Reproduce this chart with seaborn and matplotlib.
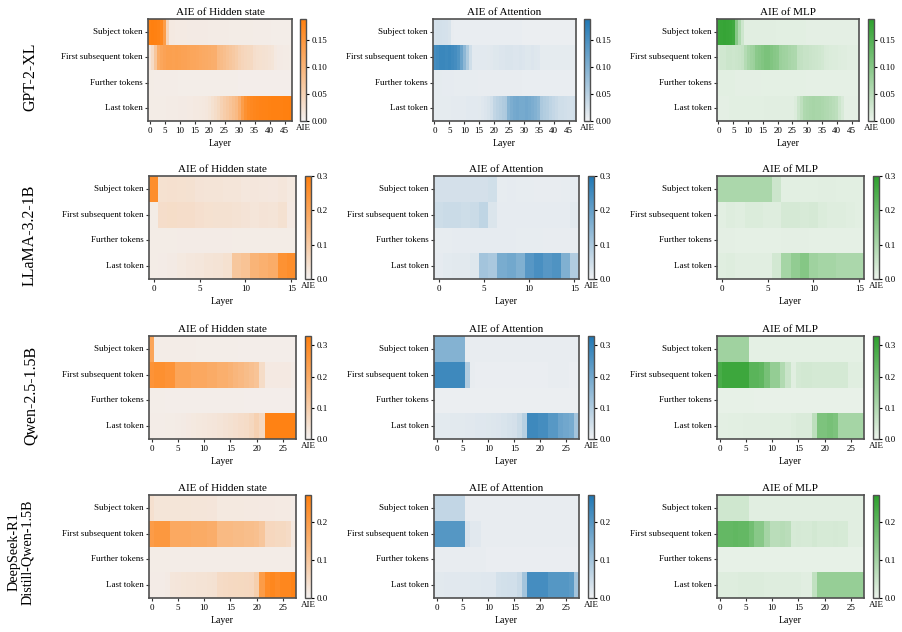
import numpy as np
import pandas as pd
import matplotlib
matplotlib.use("Agg")
import matplotlib.pyplot as plt
import seaborn as sns

# ---------------- data ----------------
tokens = ["Subject token", "First subsequent token", "Further tokens", "Last token"]
models = ["GPT-2-XL", "LLaMA-3.2-1B", "Qwen-2.5-1.5B", "DeepSeek-R1\nDistill-Qwen-1.5B"]
components = ["Hidden state", "Attention", "MLP"]
vmaxes = [0.19, 0.30, 0.33, 0.27]

# GPT-2-XL (48 layers)
gpt_hid_subj = [.185,.188,.186,.184,.176,.140,.045,.012,.012,.011,
                .011,.011,.011,.010,.010,.010,.010,.010,.010,.010,
                .009,.009,.009,.009,.009,.009,.009,.008,.008,.008,
                .008,.008,.008,.008,.008,.007,.007,.007,.007,.007,
                .007,.006,.006,.006,.006,.006,.006,.006]
gpt_hid_first = [.018,.035,.070,.115,.125,.130,.135,.135,.133,.135,
                 .133,.131,.130,.128,.125,.124,.122,.120,.118,.116,
                 .114,.112,.110,.092,.087,.082,.076,.070,.065,.060,
                 .050,.045,.042,.040,.038,.030,.028,.026,.025,.024,
                 .022,.020,.012,.010,.010,.009,.009,.008]
gpt_hid_furt = [.008,.008,.007,.007,.007,.007,.007,.007,.007,.007,
                .006,.006,.006,.006,.006,.006,.006,.006,.006,.006,
                .006,.006,.006,.006,.006,.006,.006,.006,.006,.006,
                .005,.005,.005,.005,.005,.005,.005,.005,.005,.005,
                .005,.005,.005,.005,.005,.005,.005,.005]
gpt_hid_last = [.008,.008,.008,.008,.008,.008,.009,.009,.009,.009,
                .010,.010,.010,.011,.011,.012,.012,.013,.014,.016,
                .020,.026,.032,.040,.050,.058,.066,.074,.082,.090,
                .110,.140,.160,.170,.175,.178,.180,.182,.183,.184,
                .185,.186,.186,.187,.187,.188,.188,.190]

gpt_att_subj = [.024,.026,.026,.025,.024,.022,.007,.006,.006,.006,
                .006,.006,.006,.006,.006,.006,.006,.006,.006,.006,
                .006,.006,.006,.006,.006,.006,.006,.006,.006,.006,
                .005,.005,.005,.005,.005,.005,.005,.005,.005,.005,
                .005,.005,.005,.005,.005,.005,.005,.005]
gpt_att_first = [.155,.160,.165,.165,.162,.165,.160,.155,.145,.120,
                 .090,.060,.030,.012,.012,.012,.012,.012,.013,.014,
                 .016,.016,.018,.018,.020,.020,.020,.018,.018,.020,
                 .018,.016,.016,.018,.016,.015,.010,.010,.010,.010,
                 .010,.010,.010,.010,.010,.010,.010,.010]
gpt_att_furt = [.010,.010,.010,.009,.009,.009,.009,.008,.008,.008,
                .008,.008,.008,.008,.008,.007,.007,.007,.007,.007,
                .007,.007,.007,.007,.007,.007,.007,.007,.007,.007,
                .006,.006,.006,.006,.006,.006,.006,.006,.006,.006,
                .006,.006,.006,.006,.006,.006,.006,.006]
gpt_att_last = [.010,.010,.010,.010,.010,.010,.011,.011,.011,.011,
                .011,.012,.012,.012,.012,.013,.015,.018,.022,.028,
                .042,.048,.052,.058,.062,.095,.105,.112,.115,.110,
                .110,.115,.110,.105,.100,.092,.062,.056,.052,.046,
                .040,.035,.030,.030,.028,.026,.025,.028]

gpt_mlp_subj = [.175,.178,.180,.178,.176,.170,.100,.060,.030,.010,
                .010,.010,.010,.010,.010,.010,.010,.010,.010,.010,
                .009,.009,.009,.009,.009,.009,.009,.009,.009,.009,
                .008,.008,.008,.008,.008,.008,.008,.008,.008,.008,
                .008,.008,.008,.008,.008,.008,.008,.008]
gpt_mlp_first = [.022,.027,.027,.032,.032,.030,.032,.034,.038,.055,
                 .068,.075,.080,.095,.100,.106,.112,.112,.105,.100,
                 .096,.080,.075,.074,.068,.064,.062,.042,.040,.036,
                 .036,.033,.031,.030,.028,.025,.020,.018,.016,.015,
                 .015,.014,.012,.012,.010,.010,.010,.010]
gpt_mlp_furt = [.009,.009,.009,.009,.009,.009,.008,.008,.008,.008,
                .008,.008,.008,.008,.008,.007,.007,.007,.007,.007,
                .007,.007,.007,.007,.007,.007,.007,.007,.007,.007,
                .006,.006,.006,.006,.006,.006,.006,.006,.006,.006,
                .006,.006,.006,.006,.006,.006,.006,.006]
gpt_mlp_last = [.008,.008,.008,.008,.009,.009,.009,.009,.009,.009,
                .009,.009,.009,.009,.009,.009,.010,.010,.010,.010,
                .010,.010,.010,.010,.010,.010,.015,.032,.045,.060,
                .063,.066,.068,.066,.066,.063,.060,.058,.054,.050,
                .046,.030,.020,.008,.008,.008,.008,.008]

# LLaMA-3.2-1B (16 layers)
ll_hid_subj = [.260,.042,.044,.042,.040,.035,.033,.032,.030,.030,.025,.026,.025,.024,.028,.020]
ll_hid_first = [.012,.050,.052,.050,.050,.045,.042,.040,.040,.038,.035,.030,.035,.032,.040,.018]
ll_hid_furt = [.012,.012,.012,.014,.014,.014,.014,.013,.013,.012,.012,.012,.012,.012,.012,.012]
ll_hid_last = [.012,.014,.016,.020,.025,.028,.032,.036,.042,.110,.120,.160,.170,.180,.250,.260]

ll_att_subj = [.040,.040,.040,.040,.040,.040,.045,.012,.013,.012,.012,.011,.011,.011,.012,.014]
ll_att_first = [.050,.055,.055,.050,.055,.070,.030,.015,.014,.014,.014,.013,.013,.013,.013,.020]
ll_att_furt = [.012,.012,.014,.014,.014,.014,.014,.013,.013,.012,.012,.012,.011,.011,.011,.011]
ll_att_last = [.015,.018,.020,.020,.025,.110,.100,.170,.180,.160,.220,.240,.220,.230,.160,.090]

ll_mlp_subj = [.100,.100,.100,.100,.100,.100,.050,.015,.015,.015,.015,.016,.016,.015,.015,.015]
ll_mlp_first = [.015,.020,.018,.025,.025,.022,.020,.035,.035,.032,.035,.025,.020,.020,.018,.015]
ll_mlp_furt = [.012,.012,.010,.010,.010,.010,.010,.012,.012,.012,.010,.010,.010,.010,.010,.010]
ll_mlp_last = [.018,.020,.016,.016,.016,.016,.040,.110,.140,.160,.120,.110,.110,.100,.100,.100]

# Qwen-2.5-1.5B (28 layers)
qw_hid_subj = [.220,.012,.012,.012,.012,.012,.012,.012,.012,.011,
               .011,.011,.011,.011,.011,.011,.011,.010,.010,.010,
               .010,.010,.010,.010,.010,.010,.010,.008]
qw_hid_first = [.270,.280,.280,.270,.270,.220,.220,.220,.210,.210,
                .210,.200,.200,.190,.190,.180,.170,.160,.150,.140,
                .130,.060,.020,.020,.020,.020,.020,.015]
qw_hid_furt = [.011,.011,.011,.010,.010,.010,.010,.010,.010,.010,
               .010,.010,.010,.010,.010,.010,.010,.010,.009,.009,
               .009,.009,.009,.009,.009,.009,.009,.009]
qw_hid_last = [.012,.012,.012,.014,.014,.016,.018,.020,.022,.025,
               .028,.030,.032,.035,.040,.045,.050,.055,.060,.070,
               .090,.070,.320,.320,.320,.320,.320,.320]

qw_att_subj = [.170,.170,.170,.170,.170,.170,.012,.012,.012,.012,
               .012,.012,.012,.012,.012,.012,.012,.012,.012,.012,
               .012,.012,.012,.012,.012,.012,.012,.012]
qw_att_first = [.280,.280,.280,.280,.280,.280,.100,.012,.010,.010,
                .010,.010,.010,.010,.010,.010,.010,.010,.010,.010,
                .010,.010,.012,.012,.012,.012,.010,.010]
qw_att_furt = [.009,.009,.009,.009,.009,.009,.009,.009,.009,.008,
               .008,.008,.008,.008,.008,.008,.008,.008,.008,.008,
               .008,.008,.008,.008,.008,.008,.008,.008]
qw_att_last = [.020,.020,.020,.022,.022,.022,.024,.024,.026,.026,
               .028,.030,.032,.035,.040,.045,.060,.090,.280,.280,
               .270,.270,.240,.240,.210,.200,.190,.120]

qw_mlp_subj = [.130,.130,.130,.130,.130,.130,.012,.012,.012,.012,
               .012,.012,.012,.012,.012,.012,.012,.012,.012,.012,
               .012,.012,.012,.012,.012,.012,.012,.012]
qw_mlp_first = [.280,.300,.300,.300,.300,.300,.250,.250,.240,.200,
                .150,.150,.100,.060,.020,.040,.045,.045,.040,.040,
                .040,.040,.040,.040,.040,.020,.020,.020]
qw_mlp_furt = [.007,.007,.007,.007,.007,.007,.007,.006,.006,.006,
               .006,.006,.006,.006,.006,.006,.006,.006,.006,.006,
               .006,.006,.006,.006,.006,.006,.006,.006]
qw_mlp_last = [.015,.015,.016,.016,.016,.017,.017,.018,.018,.018,
               .020,.020,.020,.020,.025,.030,.030,.030,.080,.190,
               .190,.200,.190,.120,.120,.120,.120,.120]

# DeepSeek-R1-Distill-Qwen-1.5B (28 layers)
ds_hid_subj = [.040,.028,.028,.028,.028,.028,.028,.028,.027,.027,
               .027,.026,.026,.018,.018,.018,.018,.018,.017,.017,
               .017,.016,.016,.016,.015,.015,.015,.012]
ds_hid_first = [.200,.210,.210,.210,.170,.170,.170,.170,.165,.165,
                .165,.160,.160,.130,.130,.130,.125,.125,.120,.120,
                .115,.100,.060,.060,.055,.055,.050,.020]
ds_hid_furt = [.011,.011,.011,.011,.010,.010,.010,.010,.010,.010,
               .010,.010,.010,.010,.010,.010,.010,.010,.010,.010,
               .010,.010,.010,.010,.010,.010,.010,.010]
ds_hid_last = [.012,.012,.012,.014,.025,.026,.028,.030,.030,.032,
               .032,.034,.035,.050,.052,.054,.055,.056,.058,.060,
               .080,.200,.240,.250,.240,.250,.250,.260]

ds_att_subj = [.060,.060,.060,.060,.060,.060,.010,.010,.010,.010,
               .010,.010,.010,.010,.010,.010,.010,.010,.010,.010,
               .010,.010,.010,.010,.010,.010,.010,.010]
ds_att_first = [.200,.200,.200,.200,.200,.200,.030,.020,.020,.010,
                .010,.010,.010,.010,.010,.010,.010,.010,.010,.010,
                .010,.010,.010,.010,.010,.010,.010,.010]
ds_att_furt = [.010,.010,.010,.010,.010,.010,.010,.010,.010,.010,
               .008,.008,.008,.008,.008,.008,.008,.008,.008,.008,
               .008,.008,.008,.008,.008,.008,.008,.008]
ds_att_last = [.018,.018,.019,.019,.020,.020,.020,.021,.021,.022,
               .022,.022,.035,.038,.040,.040,.050,.100,.220,.220,
               .220,.220,.200,.200,.200,.200,.190,.100]

ds_mlp_subj = [.040,.040,.040,.040,.040,.040,.015,.015,.015,.015,
               .015,.015,.015,.015,.015,.015,.015,.015,.015,.015,
               .015,.015,.015,.015,.015,.015,.015,.015]
ds_mlp_first = [.190,.190,.190,.195,.190,.190,.170,.140,.140,.100,
                .070,.070,.075,.070,.030,.032,.030,.030,.035,.030,
                .030,.030,.032,.030,.030,.015,.015,.015]
ds_mlp_furt = [.007,.007,.007,.007,.007,.006,.006,.006,.006,.006,
               .006,.006,.006,.006,.006,.006,.006,.006,.006,.006,
               .006,.006,.006,.006,.006,.006,.006,.006]
ds_mlp_last = [.018,.018,.020,.020,.022,.022,.022,.022,.022,.020,
               .020,.020,.020,.018,.018,.018,.015,.015,.060,.120,
               .120,.120,.120,.120,.120,.120,.120,.120]

panels = [
    [[gpt_hid_subj, gpt_hid_first, gpt_hid_furt, gpt_hid_last],
     [gpt_att_subj, gpt_att_first, gpt_att_furt, gpt_att_last],
     [gpt_mlp_subj, gpt_mlp_first, gpt_mlp_furt, gpt_mlp_last]],
    [[ll_hid_subj, ll_hid_first, ll_hid_furt, ll_hid_last],
     [ll_att_subj, ll_att_first, ll_att_furt, ll_att_last],
     [ll_mlp_subj, ll_mlp_first, ll_mlp_furt, ll_mlp_last]],
    [[qw_hid_subj, qw_hid_first, qw_hid_furt, qw_hid_last],
     [qw_att_subj, qw_att_first, qw_att_furt, qw_att_last],
     [qw_mlp_subj, qw_mlp_first, qw_mlp_furt, qw_mlp_last]],
    [[ds_hid_subj, ds_hid_first, ds_hid_furt, ds_hid_last],
     [ds_att_subj, ds_att_first, ds_att_furt, ds_att_last],
     [ds_mlp_subj, ds_mlp_first, ds_mlp_furt, ds_mlp_last]],
]

# ---------------- style ----------------
plt.rcParams["font.family"] = ["serif"]
plt.rcParams["font.serif"] = ["Liberation Serif", "DejaVu Serif"]

comp_colors = ["#ff7f0e", "#1f77b4", "#2ca02c"]
cmaps = [sns.light_palette(c, as_cmap=True) for c in comp_colors]

W, H = 902, 632
fig = plt.figure(figsize=(W / 100, H / 100), dpi=100)

row_tops = [19, 176, 336, 495]
row_h = [102, 103, 103, 103]
hm_x = [[(148, 292), (433, 576), (717, 859)]] + [[(149, 296), (434, 579), (717, 864)]] * 3
cb_x = [[(300, 306), (584, 590), (868, 874)]] + [[(305, 311), (588, 594), (873, 879)]] * 3
label_pos = [(30, 77), (30, 235), (31, 395), (21, 552)]
label_size = [11.5, 11.5, 11.5, 10.2]

spine_col = "#505050"

def frac(x0, x1, top, h):
    return [x0 / W, 1 - (top + h) / H, (x1 - x0) / W, h / H]

for r in range(4):
    for c in range(3):
        rows = panels[r][c]
        n = len(rows[0])
        df = pd.DataFrame(rows, index=tokens, columns=list(range(n)))
        ax = fig.add_axes(frac(*hm_x[r][c], row_tops[r], row_h[r]))
        cax = fig.add_axes(frac(*cb_x[r][c], row_tops[r], row_h[r]))
        sns.heatmap(df, ax=ax, cbar_ax=cax, cmap=cmaps[c], vmin=0, vmax=vmaxes[r],
                    xticklabels=False, yticklabels=tokens)
        ticks = list(range(0, n, 5))
        ax.set_xticks([t + 0.5 for t in ticks])
        ax.set_xticklabels([str(t) for t in ticks], rotation=0)
        ax.set_yticklabels(tokens, rotation=0)
        ax.tick_params(axis="both", length=2.5, width=0.8, labelsize=6.5, pad=1.5,
                       color="#333333")
        for s in ax.spines.values():
            s.set_visible(True)
            s.set_color(spine_col)
            s.set_linewidth(1.2)
        ax.set_title(f"AIE of {components[c]}", fontsize=8, pad=3)
        ax.set_xlabel("Layer", fontsize=7, labelpad=3)
        ax.set_ylabel("")
        cbar = ax.collections[0].colorbar
        cbar.outline.set_visible(True)
        cbar.outline.set_linewidth(1.0)
        cbar.outline.set_edgecolor(spine_col)
        cbar.ax.tick_params(labelsize=6.5, length=2.5, width=0.8, pad=1.5)
        cbar.ax.set_xlabel("AIE", fontsize=6.5, labelpad=2)

for r in range(4):
    x, y = label_pos[r]
    fig.text(x / W, 1 - y / H, models[r], rotation=90, ha="center", va="center",
             fontsize=label_size[r], multialignment="center", linespacing=1.05)

fig.savefig("out.png", dpi=100)
